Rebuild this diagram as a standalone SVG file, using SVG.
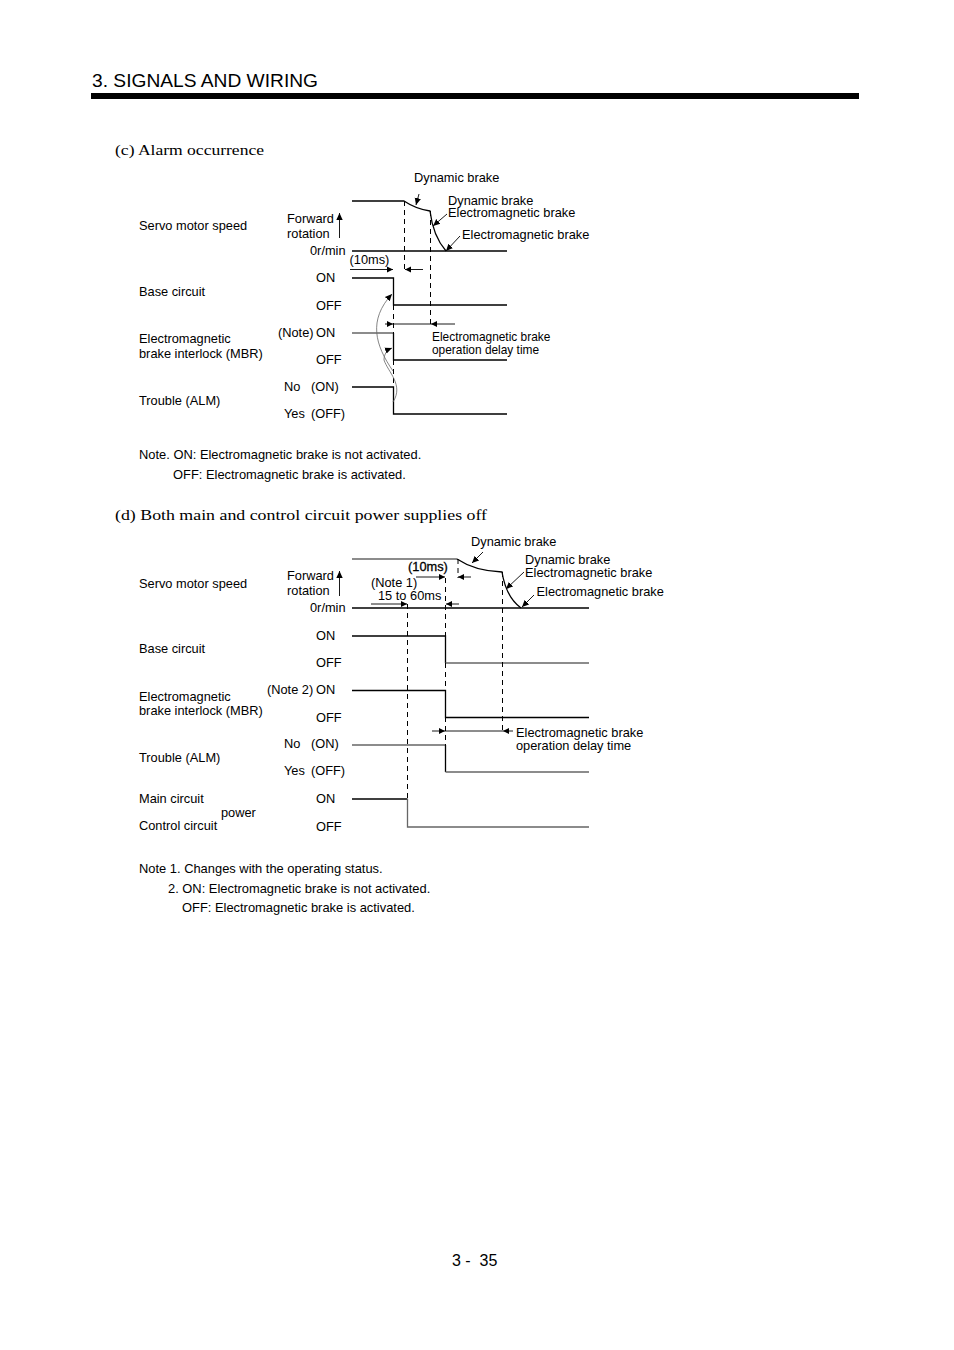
<svg xmlns="http://www.w3.org/2000/svg" width="954" height="1350" viewBox="0 0 954 1350">
<defs>
<marker id="r" markerUnits="userSpaceOnUse" markerWidth="7" markerHeight="7" refX="6" refY="3.500" orient="auto"><polygon points="0,0.5 6,3.500 0,6.500" fill="#000"/></marker>
<marker id="l" markerUnits="userSpaceOnUse" markerWidth="7" markerHeight="7" refX="6" refY="3.500" orient="auto"><polygon points="0,0.5 6,3.500 0,6.500" fill="#000"/></marker>
<marker id="a" markerUnits="userSpaceOnUse" markerWidth="8" markerHeight="8" refX="7" refY="4" orient="auto"><polygon points="0,0.8 7,4 0,7.200" fill="#000"/></marker>
</defs>
<style>
text{font-family:"Liberation Sans",Arial,sans-serif;font-size:12.8px;fill:#000}
.h{font-family:"Liberation Serif","Times New Roman",serif;font-size:15.5px}
.t{font-size:19.2px}
.p{font-size:16px;white-space:pre}
.s{font-size:11.9px}
.n{font-size:12.9px}
.w,.g,.d,.f,.c{fill:none}
.w{stroke:#000;stroke-width:1.3}
.g{stroke:#666;stroke-width:1.3}
.d{stroke:#000;stroke-width:1;stroke-dasharray:5 4}
.f{stroke:#000;stroke-width:.9}
.c{stroke:#666;stroke-width:.8}
</style>
<g id="header">
<text class="t" x="92" y="87">3. SIGNALS AND WIRING</text>
<rect x="91" y="93" width="768" height="6" fill="#000"/>
</g>
<g id="chart-c-labels">
<text class="h" x="115" y="155" textLength="149" lengthAdjust="spacingAndGlyphs">(c) Alarm occurrence</text>
<text x="139" y="230">Servo motor speed</text>
<text x="287" y="223">Forward</text>
<text x="287" y="238">rotation</text>
<text x="310" y="255">0r/min</text>
<text x="349.500" y="264">(10ms)</text>
<text x="316" y="282">ON</text>
<text x="139" y="296">Base circuit</text>
<text x="316" y="310">OFF</text>
<text x="139" y="343">Electromagnetic</text>
<text x="139" y="358">brake interlock (MBR)</text>
<text x="278" y="337">(Note)</text>
<text x="316" y="337">ON</text>
<text x="316" y="364">OFF</text>
<text x="284" y="391">No</text>
<text x="311" y="391">(ON)</text>
<text x="139" y="405">Trouble (ALM)</text>
<text x="284" y="418">Yes</text>
<text x="311" y="418">(OFF)</text>
<text x="414" y="182">Dynamic brake</text>
<text x="448" y="205">Dynamic brake</text>
<text x="448" y="217">Electromagnetic brake</text>
<text x="462" y="239">Electromagnetic brake</text>
<text class="s" x="432" y="341">Electromagnetic brake</text>
<text class="s" x="432" y="354">operation delay time</text>
<text class="n" x="139" y="459">Note. ON: Electromagnetic brake is not activated.</text>
<text class="n" x="173" y="479">OFF: Electromagnetic brake is activated.</text>
</g>
<g id="chart-c-connectors">
<path class="w" d="M352,201H404Q416,209 430,211Q433,236 446,251"/>
<path class="w" d="M352,251H507"/>
<path class="w" d="M352,278H393.500V305H507"/>
<path class="g" d="M352,333H393.500"/>
<path class="w" d="M393.500,333V360H507"/>
<path class="w" d="M352,387H393.500V414H507"/>
<path class="d" d="M404.500,201V270M430.500,211V325M393.500,305V333M393.500,360V387"/>
<path class="f" d="M339.500,238V213" marker-end="url(#a)"/>
<path class="f" d="M350,269.500H393" marker-end="url(#r)"/>
<path class="f" d="M423,269.500H405" marker-end="url(#l)"/>
<path class="f" d="M385,324H393" marker-end="url(#r)"/>
<path class="f" d="M393,324H431"/>
<path class="f" d="M455,324H431" marker-end="url(#l)"/>
<path class="f" d="M419,194L416,205" marker-end="url(#a)"/>
<path class="f" d="M447,214L433,226" marker-end="url(#a)"/>
<path class="f" d="M460,236L446,251" marker-end="url(#a)"/>
<path class="c" d="M393,371C375,345 368,320 392,294" marker-end="url(#a)"/>
<path class="c" d="M393,402C404,385 388,372 384,360C384,354 387,350 392,348" marker-end="url(#a)"/>
</g>
<g id="chart-d-labels">
<text class="h" x="115" y="520" textLength="372" lengthAdjust="spacingAndGlyphs">(d) Both main and control circuit power supplies off</text>
<text x="471" y="546">Dynamic brake</text>
<text x="525" y="564">Dynamic brake</text>
<text x="525" y="577">Electromagnetic brake</text>
<text x="536.500" y="596">Electromagnetic brake</text>
<text x="408" y="571" stroke="#000" stroke-width=".3">(10ms)</text>
<text x="371" y="587">(Note 1)</text>
<text x="378" y="600">15 to 60ms</text>
<text x="139" y="588">Servo motor speed</text>
<text x="287" y="580">Forward</text>
<text x="287" y="595">rotation</text>
<text x="310" y="612">0r/min</text>
<text x="316" y="640">ON</text>
<text x="139" y="653">Base circuit</text>
<text x="316" y="667">OFF</text>
<text x="139" y="701">Electromagnetic</text>
<text x="139" y="715">brake interlock (MBR)</text>
<text x="267" y="694">(Note 2)</text>
<text x="316" y="694">ON</text>
<text x="316" y="722">OFF</text>
<text x="284" y="748">No</text>
<text x="311" y="748">(ON)</text>
<text x="139" y="762">Trouble (ALM)</text>
<text x="284" y="775">Yes</text>
<text x="311" y="775">(OFF)</text>
<text x="139" y="803">Main circuit</text>
<text x="221" y="817">power</text>
<text x="139" y="830">Control circuit</text>
<text x="316" y="803">ON</text>
<text x="316" y="831">OFF</text>
<text x="516" y="737">Electromagnetic brake</text>
<text x="516" y="750">operation delay time</text>
<text class="n" x="139" y="873">Note 1. Changes with the operating status.</text>
<text class="n" x="168" y="893">2. ON: Electromagnetic brake is not activated.</text>
<text class="n" x="182" y="912">OFF: Electromagnetic brake is activated.</text>
</g>
<g id="chart-d-connectors">
<path class="g" d="M352,559H457"/>
<path class="w" d="M457,559Q475,571 502,572Q506,597 521,608"/>
<path class="w" d="M352,608H589"/>
<path class="w" d="M352,636H445.500V663"/>
<path class="g" d="M445.500,663H589"/>
<path class="w" d="M352,690.500H445.500V717.500H589"/>
<path class="g" d="M352,745H445.500"/>
<path class="w" d="M445.500,745V772"/>
<path class="g" d="M445.500,772H589"/>
<path class="w" d="M352,799H407.500"/>
<path class="g" d="M407.500,799V827H589"/>
<path class="d" d="M458,559V578M445.500,578V636M407.500,604V799M502.500,572V731M445.500,663V690M445.500,717V745"/>
<path class="f" d="M339.500,596V571" marker-end="url(#a)"/>
<path class="f" d="M416,577H445" marker-end="url(#r)"/>
<path class="f" d="M471,577H458" marker-end="url(#l)"/>
<path class="f" d="M371,604H407" marker-end="url(#r)"/>
<path class="f" d="M459,604H446" marker-end="url(#l)"/>
<path class="f" d="M432,731H445" marker-end="url(#r)"/>
<path class="f" d="M513,731H503" marker-end="url(#l)"/>
<path class="f" d="M445,731H503"/>
<path class="f" d="M483,552L472,563" marker-end="url(#a)"/>
<path class="f" d="M524,572L506,589" marker-end="url(#a)"/>
<path class="f" d="M534,595L522,607" marker-end="url(#a)"/>
</g>
<g id="footer"><text class="p" x="452" y="1266">3 -  35</text></g>
</svg>
